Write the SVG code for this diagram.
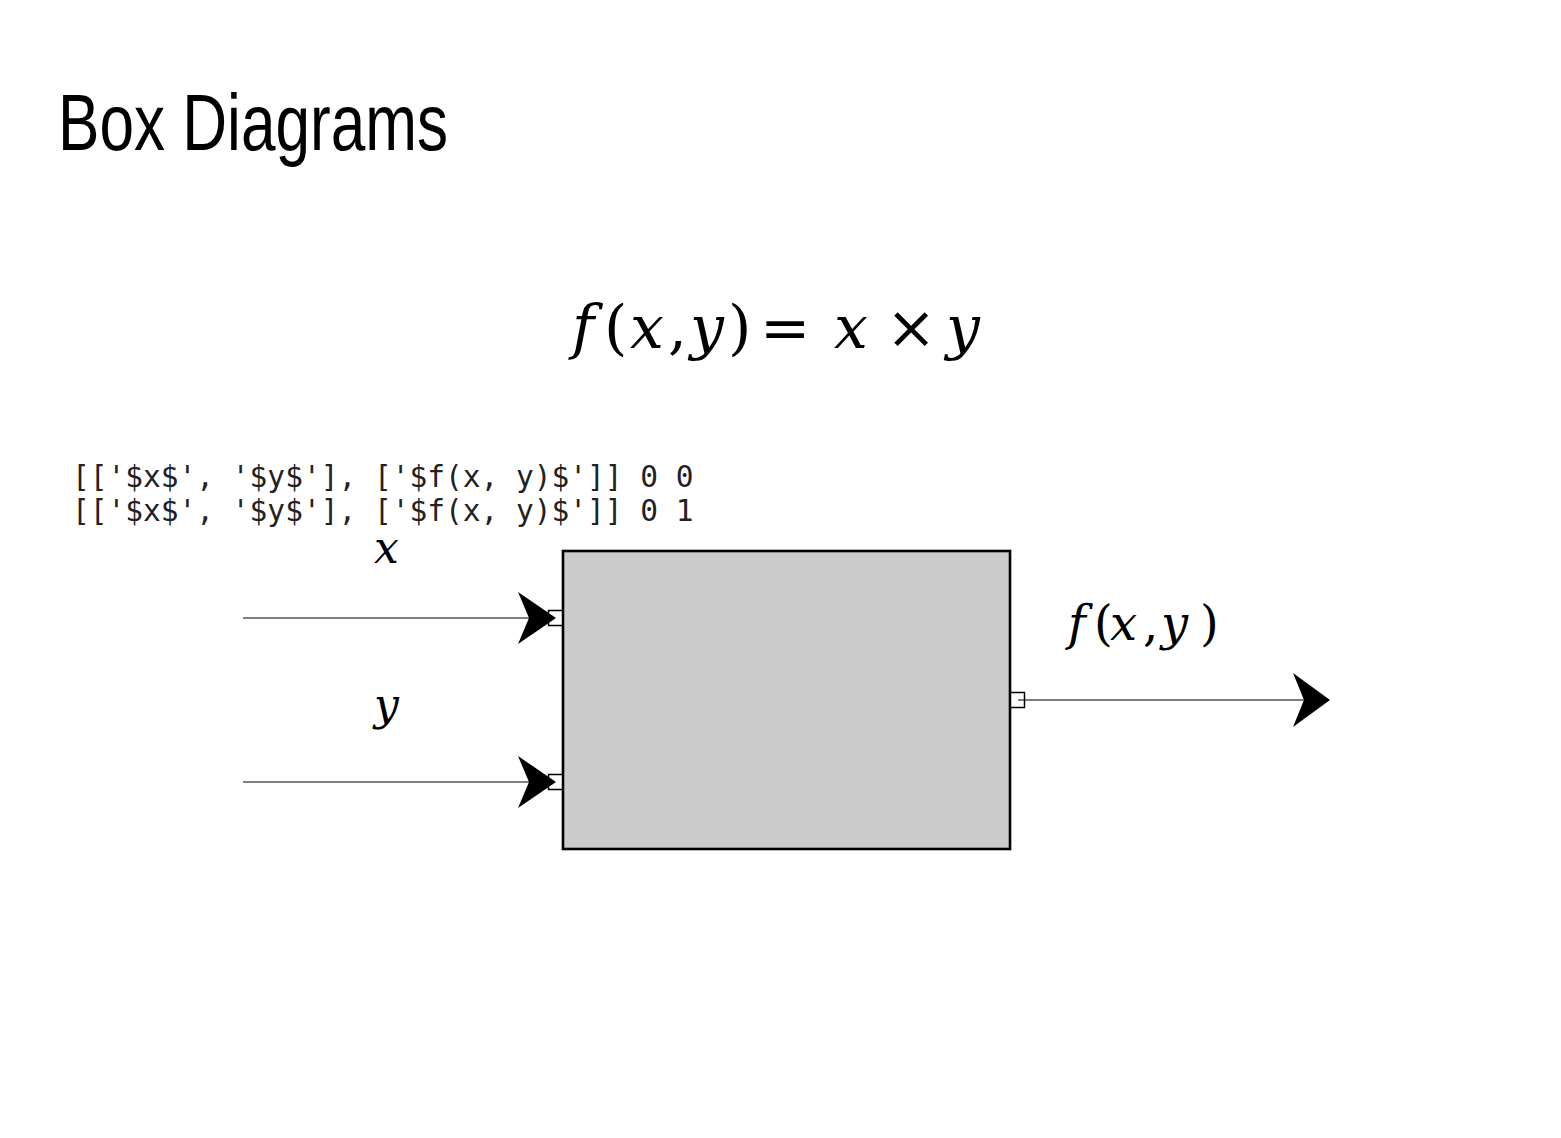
<svg xmlns="http://www.w3.org/2000/svg" width="1561" height="1138" viewBox="0 0 1561 1138">
<style>
.title{font-family:"Liberation Sans",Arial,sans-serif;font-size:80px;fill:#000}
.math{font-family:"DejaVu Serif","Liberation Serif",serif;fill:#000}
.it{font-style:italic}
.mono{font-family:"DejaVu Sans Mono","Liberation Mono",monospace;font-size:29.5px;fill:#222}
.port{fill:#fff;stroke:#000;stroke-width:1.5}
.wire{stroke:#000;stroke-width:1.2;fill:none}
.head{fill:#000;stroke:none}
</style>
<defs>
<clipPath id="clipx"><rect x="300" y="538" width="200" height="60"/></clipPath>
</defs>
<rect x="0" y="0" width="1561" height="1138" fill="#fff"/>
<text class="title" x="58" y="150" textLength="390" lengthAdjust="spacingAndGlyphs">Box Diagrams</text>
<g id="equation">
<text class="math" font-size="60" y="348"><tspan class="it" x="572">f</tspan><tspan x="604">(</tspan><tspan class="it" x="630">x</tspan><tspan x="668">,</tspan><tspan class="it" x="690">y</tspan><tspan x="728">)</tspan><tspan x="760">=</tspan><tspan class="it" x="834">x</tspan><tspan x="886">×</tspan><tspan class="it" x="946">y</tspan></text>
</g>
<g id="debug">
<text class="mono" x="72" y="487">[['$x$', '$y$'], ['$f(x, y)$']] 0 0</text>
<text class="mono" x="72" y="521">[['$x$', '$y$'], ['$f(x, y)$']] 0 1</text>
</g>
<g id="box">
<rect x="563" y="551" width="447" height="298" fill="#cccccc" stroke="#000" stroke-width="2.6"/>
</g>
<g id="port-in-x"><rect class="port" x="548.5" y="610.5" width="14" height="15"/></g>
<g id="port-in-y"><rect class="port" x="548.5" y="774.5" width="14" height="15"/></g>
<g id="port-out"><rect class="port" x="1010.5" y="692.5" width="14" height="15"/></g>
<g id="label-x" clip-path="url(#clipx)">
<text class="math it" font-size="44" x="374" y="563">x</text>
</g>
<g id="label-y"><text class="math it" font-size="44" x="374" y="720">y</text></g>
<g id="label-f">
<text class="math" font-size="48" y="640"><tspan class="it" x="1068">f</tspan><tspan x="1094">(</tspan><tspan class="it" x="1110">x</tspan><tspan x="1143">,</tspan><tspan class="it" x="1161">y</tspan><tspan x="1200">)</tspan></text>
</g>
<g id="connectors">
<line class="wire" x1="243" y1="618" x2="530" y2="618"/>
<polygon class="head" points="556,618 518,592 529,618 518,644"/>
<line class="wire" x1="243" y1="782" x2="530" y2="782"/>
<polygon class="head" points="556,782 518,756 529,782 518,808"/>
<line class="wire" x1="1018" y1="700" x2="1304" y2="700"/>
<polygon class="head" points="1330,700 1293,673 1304,700 1293,727"/>
</g>
</svg>
